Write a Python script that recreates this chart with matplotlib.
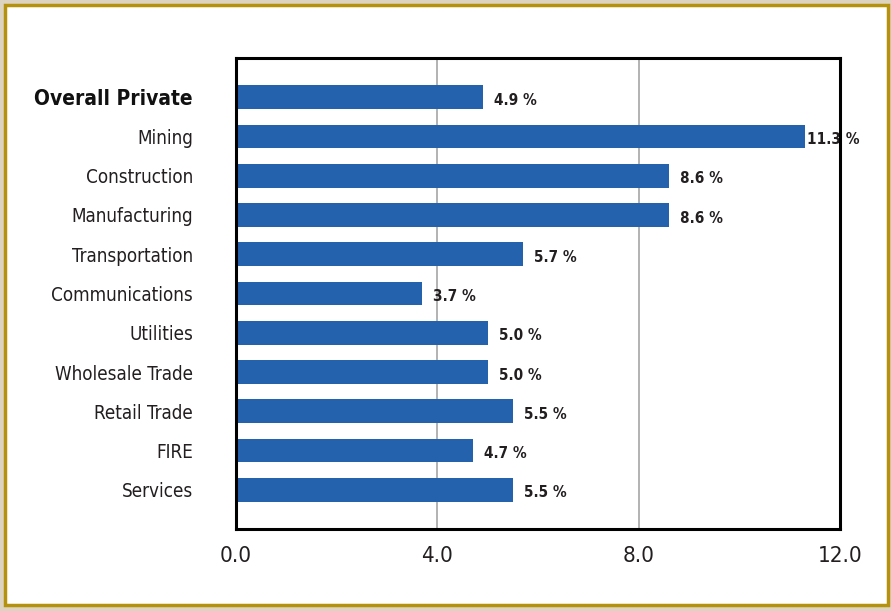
import matplotlib
matplotlib.use('Agg')
import matplotlib.pyplot as plt
from matplotlib.patches import Rectangle

# 数据
categories = ['Overall Private', 'Mining', 'Construction', 'Manufacturing', 'Transportation',
              'Communications', 'Utilities', 'Wholesale Trade', 'Retail Trade', 'FIRE', 'Services']
values = [4.9, 11.3, 8.6, 8.6, 5.7, 3.7, 5.0, 5.0, 5.5, 4.7, 5.5]
x_ticks = [0, 4, 8, 12]
x_tick_labels = ['0.0', '4.0', '8.0', '12.0']

plt.rcParams['font.family'] = ['DejaVu Sans']
plt.rcParams['font.stretch'] = 'condensed'

fig = plt.figure(figsize=(8.91, 6.11), dpi=100, facecolor='#DCD4C0')

# 外框
W, H = 891, 611
frame = Rectangle((5 / W, 6 / H), 883 / W, 600 / H, transform=fig.transFigure,
                  facecolor='white', edgecolor='#B4920E', linewidth=2.5, zorder=-10)
fig.patches.append(frame)

ax = fig.add_axes([236 / W, 1 - 529 / H, 604 / W, 471 / H])
ax.set_facecolor('white')

pos = list(range(len(categories)))
ax.barh(pos, values, height=0.61, color='#2462AE', zorder=2)

ax.set_xlim(0, 12)
ax.set_ylim(len(categories), -1)

# 网格线
for t in [4, 8]:
    ax.axvline(t, color='#A6A6A6', linewidth=1.2, zorder=1)

ax.set_xticks(x_ticks)
ax.set_xticklabels(x_tick_labels, fontsize=16, color='#231F20')
ax.set_yticks(pos)
ax.set_yticklabels(categories, fontsize=13.5, color='#231F20')
ax.tick_params(axis='x', length=0, pad=12)
ax.tick_params(axis='y', length=0, pad=31)

lbl = ax.get_yticklabels()[0]
lbl.set_fontweight('bold')
lbl.set_fontsize(15)
lbl.set_color('#111111')

for s in ax.spines.values():
    s.set_linewidth(2.2)
    s.set_color('black')
    s.set_zorder(4)

# 数值标签
for p, v in zip(pos, values):
    off = 0.22 if v < 11 else 0.04
    ax.text(v + off, p + 0.08, f'{v:.1f} %', ha='left', va='center', fontsize=11,
            fontweight='bold', color='#231F20', zorder=3)

fig.savefig('out.png', dpi=100, facecolor=fig.get_facecolor())
